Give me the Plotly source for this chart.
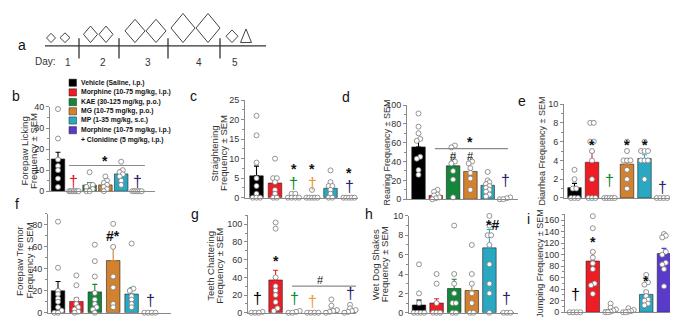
import plotly.graph_objects as go

W, H = 678, 317

# ---------------- data ----------------
group_labels = ["Vehicle (Saline, i.p.)", "Morphine (10-75 mg/kg, i.p.)",
                "KAE (30-125 mg/kg, p.o.)", "MG (10-75 mg/kg, p.o.)",
                "MP (1-35 mg/kg, s.c.)", "Morphine (10-75 mg/kg, i.p.)"]
group_label_extra = "+ Clonidine (5 mg/kg, i.p.)"
day_labels = ["1", "2", "3", "4", "5"]

lick_mean = [15.3, 0, 2.9, 3.0, 8.2, 0]
lick_sem = [3.2, 0, 1.2, 0.8, 1.9, 0]
lick_pts = [[39, 25, 15, 12, 10, 6, 2], [0, 0, 0, 0, 0, 0, 0], [9, 3, 3, 2, 1, 0, 0],
            [7, 5, 4, 3, 2, 1, 0], [14, 10, 9, 8, 7, 5, 3], [0, 0, 0, 0, 0, 0]]

straight_mean = [5.6, 3.75, 0.3, 0.25, 2.4, 0]
straight_sem = [2.5, 1.4, 0.2, 0.25, 1.0, 0]
straight_pts = [[21, 16, 9, 5, 3, 1, 0, 0, 0], [10, 5, 5, 4, 2, 1, 0, 0], [1, 1, 0, 0, 0, 0],
                [2, 0, 0, 0, 0, 0], [7, 4, 3, 3, 2, 1, 0, 0], [0, 0, 0, 0, 0]]

rear_mean = [55.5, 4.0, 35.5, 29.5, 14.8, 0.8]
rear_sem = [7.5, 1.5, 6.0, 2.5, 2.5, 0.4]
rear_pts = [[91, 77, 70, 64, 62, 45, 43, 31, 26], [10, 8, 5, 4, 2, 1, 0],
            [57, 55, 45, 40, 38, 30, 21, 2], [42, 40, 38, 33, 28, 22, 10],
            [29, 20, 18, 16, 14, 12, 10, 8, 5, 3], [2, 1, 0, 0]]

diar_mean = [1.1, 3.8, 0, 3.6, 4.2, 0]
diar_sem = [0.45, 1.1, 0, 0.6, 0.4, 0]
diar_pts = [[3, 2, 1, 1, 0, 0, 0], [8, 8, 6, 6, 5, 4, 2, 0, 0, 0], [0, 0, 0, 0, 0],
            [6, 5, 4, 4, 4, 3, 2, 1], [6, 5, 5, 5, 4, 4, 4, 2], [0, 0, 0, 0]]

tremor_mean = [20, 10.3, 19, 47.5, 17, 0]
tremor_sem = [8.4, 3.0, 6.8, 12.6, 6.0, 0]
tremor_pts = [[83, 41, 20, 17, 13, 10, 5, 2, 0, 0], [34, 25, 12, 8, 5, 3, 1, 0],
              [62, 47, 33, 18, 12, 8, 5, 3, 0], [81, 60, 33, 23, 8, 5],
              [63, 22, 20, 15, 12, 8, 5], [0, 0, 0, 0]]

teeth_mean = [0.3, 37, 0.5, 0, 2.5, 2.2]
teeth_sem = [0.2, 11, 0.3, 0, 1.5, 1.0]
teeth_pts = [[1, 0, 0, 0], [102, 95, 40, 30, 25, 20, 12, 5, 2], [2, 1, 0, 0],
             [0, 0, 0, 0], [15, 8, 3, 2, 1, 0], [9, 5, 3, 2, 1, 0]]

wds_mean = [0.8, 1.0, 2.5, 2.3, 6.7, 0]
wds_sem = [0.5, 0.45, 0.95, 0.7, 1.9, 0]
wds_pts = [[5, 2, 1, 0, 0, 0, 0], [4, 3, 1, 0, 0, 0], [9, 4, 3, 2, 1, 1, 0, 0],
           [7, 4, 3, 2, 1, 0, 0], [10, 9, 8, 8, 7, 5, 3, 2, 0], [0, 0, 0]]

jump_mean = [0, 89, 4, 2, 31, 102]
jump_sem = [0, 16, 1.8, 0.8, 6, 9]
jump_pts = [[0, 0, 0, 0], [167, 146, 105, 95, 85, 75, 50, 47, 32], [15, 8, 5, 3, 1, 0, 0],
            [7, 4, 2, 1, 0, 0], [65, 52, 48, 35, 28, 22, 20, 15, 12],
            [136, 133, 130, 105, 100, 86, 83, 75, 45]]

# ---------------- styles ----------------
FONT = "Liberation Sans, Arial, sans-serif"
bar_colors = ["#000000", "#EE1C25", "#14863A", "#D2812F", "#2AA8C2", "#5A3ACB"]
dag_colors = {"k": "#000000", "r": "#E8141C", "g": "#14863A", "o": "#EE9A3A", "n": "#2A1F6E"}
AXC = "#8a8a8a"


def fx(px):
    return px / W


def fy(py):
    return 1 - py / H


panels = [
    dict(box=(42, 147, 97, 184), c0=50, sp=15.8, ymax=40, dtick=10, mean=lick_mean, sem=lick_sem, pts=lick_pts,
         dag=[(1, 3.5, "r"), (5, 3.5, "n")], marks=[(2.97, 14.3, "*")], sig=[(0.7, 5.5, 12.2)],
         ylab=[("Forepaw Licking", 16), ("Frequency ± SEM", 25.5)], yc=143, ls=9.5, letter=("b", 8, 86)),
    dict(box=(237, 350, 90, 190.7), c0=248.5, sp=18.5, ymax=25, dtick=5, mean=straight_mean, sem=straight_sem,
         pts=straight_pts, dag=[(2, 3.0, "g"), (3, 3.0, "o"), (5, 2.4, "n")],
         marks=[(2, 7.3, "*"), (3, 7.3, "*"), (5, 6.4, "*")], sig=[],
         ylab=[("Straightening", 206), ("Frequency ± SEM", 215.5)], yc=145, ls=9.5, letter=("c", 185, 86)),
    dict(box=(399, 510, 95, 192.3), c0=410.5, sp=17.3, ymax=100, dtick=20, mean=rear_mean, sem=rear_sem,
         pts=rear_pts, dag=[(5, 17.8, "n")], marks=[(2, 45.8, "#"), (3, 45.8, "#"), (2.98, 60.6, "*")],
         sig=[(0.95, 5.17, 53.8)], ylab=[("Rearing Frequency ± SEM", 379)], yc=144, ls=9, letter=("d", 338, 87)),
    dict(box=(556, 675, 94, 191), c0=566.5, sp=17.5, ymax=10, dtick=2, mean=diar_mean, sem=diar_sem,
         pts=diar_pts, dag=[(2, 1.65, "g"), (5, 0.95, "n")], marks=[(1, 5.6, "*"), (3, 5.6, "*"), (4, 5.6, "*")],
         sig=[], ylab=[("Diarrhea Frequency ± SEM", 534)], yc=143, ls=9, letter=("e", 514, 91)),
    dict(box=(40, 163, 207.5, 309.5), c0=50, sp=18.4, ymax=90, dtick=20, mean=tremor_mean, sem=tremor_sem,
         pts=tremor_pts, dag=[(5, 9.4, "n")], marks=[(3, 70.3, "#*")], sig=[],
         ylab=[("Forepaw Tremor", 12), ("Frequency ± SEM", 21.5)], yc=256, ls=9.5, letter=("f", 9, 197)),
    dict(box=(240, 348, 209, 309.5), c0=249, sp=18.6, ymax=110, dtick=20, mean=teeth_mean, sem=teeth_sem,
         pts=teeth_pts, dag=[(0, 14, "k"), (2, 13.5, "g"), (3, 10.5, "o"), (5, 19, "n")],
         marks=[(1, 59, "*"), (3.44, 36.8, "#")], sig=[(1.88, 5.32, 30)],
         ylab=[("Teeth Chattering", 203), ("Frequency ± SEM", 212)], yc=261, ls=9.5, letter=("g", 187, 208)),
    dict(box=(401, 510, 209.5, 309.5), c0=411, sp=17.6, ymax=10, dtick=2, mean=wds_mean, sem=wds_sem,
         pts=wds_pts, dag=[(5, 1.25, "n")], marks=[(4.2, 9.1, "*#")], sig=[],
         ylab=[("Wet Dog Shakes", 367.5), ("Frequency ± SEM", 376.5)], yc=260, ls=9.5, letter=("h", 361, 208)),
    dict(box=(557, 673, 208, 309), c0=567, sp=17.8, ymax=170, dtick=20, mean=jump_mean, sem=jump_sem,
         pts=jump_pts, dag=[(0, 26.6, "k")], marks=[(1, 122, "*"), (4, 55, "*")], sig=[],
         ylab=[("Jumping Frequency ± SEM", 532)], yc=259, ls=9, letter=("i", 520, 213)),
]


def swarm(vals, ymax, spread=0.6, step=0.2, tol=0.03):
    order = sorted(range(len(vals)), key=lambda k: vals[k])
    offs = [0.0] * len(vals)
    clusters = []
    for k in order:
        if clusters and vals[k] - vals[clusters[-1][0]] <= tol * ymax:
            clusters[-1].append(k)
        else:
            clusters.append([k])
    for cl in clusters:
        n = len(cl)
        if n == 1:
            continue
        s = min(step, spread / (n - 1))
        for j, k in enumerate(cl):
            offs[k] = (j - (n - 1) / 2) * s
    return offs


fig = go.Figure()
layout = dict(width=W, height=H, autosize=False, margin=dict(l=0, r=0, t=0, b=0),
              paper_bgcolor="white", plot_bgcolor="white", barmode="overlay", showlegend=False,
              font=dict(family=FONT, color="#222"))
annotations = []
shapes = []

for i, p in enumerate(panels, start=1):
    xl, xr, yt, yb = p["box"]
    sp = p["sp"]
    xmin = -(p["c0"] - xl) / sp
    xmax = 5 + (xr - (p["c0"] + 5 * sp)) / sp
    xa = "xaxis" if i == 1 else f"xaxis{i}"
    ya = "yaxis" if i == 1 else f"yaxis{i}"
    xr_ = "x" if i == 1 else f"x{i}"
    yr_ = "y" if i == 1 else f"y{i}"
    layout[xa] = dict(domain=[fx(xl), fx(xr)], range=[xmin, xmax], anchor=yr_, showline=True,
                      linecolor=AXC, linewidth=1, showticklabels=False, ticks="", showgrid=False,
                      zeroline=False, fixedrange=True)
    layout[ya] = dict(domain=[fy(yb), fy(yt)], range=[0, p["ymax"]], anchor=xr_, showline=True,
                      linecolor=AXC, linewidth=1, ticks="outside", ticklen=3, tickcolor=AXC,
                      tickwidth=1, dtick=p["dtick"], tick0=0, showgrid=False, zeroline=False,
                      tickfont=dict(size=9, color="#333"),
                      minor=dict(ticks="outside", ticklen=2, tickcolor=AXC, dtick=p["dtick"] / 2),
                      fixedrange=True)
    bw = 13.5 / sp
    for g in range(6):
        fig.add_trace(go.Bar(
            x=[g], y=[p["mean"][g]], width=bw, xaxis=xr_, yaxis=yr_,
            marker=dict(color=bar_colors[g], line=dict(color="#222", width=0.6)),
            error_y=dict(type="data", symmetric=False, array=[p["sem"][g]], arrayminus=[0],
                         visible=p["sem"][g] > 0, color=bar_colors[g], thickness=1.1, width=2.5),
        ))
    xs, ys = [], []
    for g in range(6):
        offs = swarm(p["pts"][g], p["ymax"])
        for v, o in zip(p["pts"][g], offs):
            xs.append(g + o)
            ys.append(v)
    fig.add_trace(go.Scatter(x=xs, y=ys, mode="markers", xaxis=xr_, yaxis=yr_, cliponaxis=False,
                             marker=dict(symbol="circle", size=5, color="white",
                                         line=dict(color="#7a7a7a", width=0.8))))
    for (g, v, c) in p["dag"]:
        annotations.append(dict(x=g, y=v, xref=xr_, yref=yr_, text="†", showarrow=False, yshift=2,
                                font=dict(size=16, color=dag_colors[c]), yanchor="middle"))
    for (g, v, t) in p["marks"]:
        bold = "*" in t
        txt = f"<b>{t}</b>" if bold else t
        annotations.append(dict(x=g, y=v, xref=xr_, yref=yr_, text=txt, showarrow=False,
                                font=dict(size=14 if bold else 11, color="#111"), yanchor="middle"))
    for (a, b, v) in p["sig"]:
        shapes.append(dict(type="line", xref=xr_, yref=yr_, x0=a, x1=b, y0=v, y1=v,
                           line=dict(color="#8a8a8a", width=1.2)))
    for (txt, xpx) in p["ylab"]:
        annotations.append(dict(x=fx(xpx), y=fy(p["yc"]), xref="paper", yref="paper", text=txt,
                                textangle=-90, showarrow=False, xanchor="center", yanchor="middle",
                                font=dict(size=p["ls"], color="#333")))
    lt, lx, ly = p["letter"]
    annotations.append(dict(x=fx(lx), y=fy(ly), xref="paper", yref="paper", text=lt, showarrow=False,
                            xanchor="center", yanchor="middle", font=dict(size=14, color="#111")))

# ---------------- legend (in panel b) ----------------
leg_rows = [72, 82, 92, 101.5, 111, 121, 131]
for k, lab in enumerate(group_labels):
    y = leg_rows[k]
    shapes.append(dict(type="rect", xref="paper", yref="paper", x0=fx(61), x1=fx(68.5),
                       y0=fy(y + 3.7), y1=fy(y - 3.7), fillcolor=bar_colors[k],
                       line=dict(color="#222", width=0.5)))
    annotations.append(dict(x=fx(71), y=fy(y), xref="paper", yref="paper", text=f"<b>{lab}</b>",
                            showarrow=False, xanchor="left", yanchor="middle",
                            font=dict(size=6.8, color="#111")))
annotations.append(dict(x=fx(71), y=fy(leg_rows[6]), xref="paper", yref="paper",
                        text=f"<b>{group_label_extra}</b>", showarrow=False, xanchor="left",
                        yanchor="middle", font=dict(size=6.8, color="#111")))

# ---------------- panel a: dosing timeline (schematic) ----------------
TLC = "#333"
tl_y, tl_x0, tl_x1 = 34, 37, 258
shapes.append(dict(type="line", xref="paper", yref="paper", x0=fx(tl_x0), x1=fx(tl_x1),
                   y0=fy(tl_y), y1=fy(tl_y), line=dict(color=TLC, width=1.3)))
for bx in [71, 111, 160, 212]:
    shapes.append(dict(type="line", xref="paper", yref="paper", x0=fx(bx), x1=fx(bx),
                       y0=fy(26), y1=fy(47), line=dict(color=TLC, width=1.3)))
for lab, lx in zip(day_labels, [55, 90, 135, 186, 227]):
    annotations.append(dict(x=fx(lx), y=fy(43), xref="paper", yref="paper", text=lab,
                            showarrow=False, font=dict(size=10, color=TLC)))
annotations.append(dict(x=fx(25), y=fy(42), xref="paper", yref="paper", text="Day:",
                        showarrow=False, font=dict(size=10, color=TLC)))
annotations.append(dict(x=fx(8), y=fy(23), xref="paper", yref="paper", text="a",
                        showarrow=False, font=dict(size=14, color="#111")))
inj_bottom = 30.5
for cx, w, h in [(43, 9, 9.5), (57, 10, 10), (82.5, 14, 17), (98, 14, 17), (127, 20, 24),
                 (148, 20, 24), (175, 24, 30), (200, 24, 30), (224, 12, 13)]:
    top = inj_bottom - h
    mid = inj_bottom - h / 2
    path = (f"M {fx(cx)},{fy(top)} L {fx(cx + w / 2)},{fy(mid)} L {fx(cx)},{fy(inj_bottom)} "
            f"L {fx(cx - w / 2)},{fy(mid)} Z")
    shapes.append(dict(type="path", xref="paper", yref="paper", path=path,
                       line=dict(color="#444", width=1)))
tcx, tw, th = 238, 11, 14
path = (f"M {fx(tcx)},{fy(inj_bottom - th)} L {fx(tcx + tw / 2)},{fy(inj_bottom)} "
        f"L {fx(tcx - tw / 2)},{fy(inj_bottom)} Z")
shapes.append(dict(type="path", xref="paper", yref="paper", path=path, line=dict(color="#444", width=1)))

layout["annotations"] = annotations
layout["shapes"] = shapes
fig.update_layout(**layout)
fig.write_html("out.html")
